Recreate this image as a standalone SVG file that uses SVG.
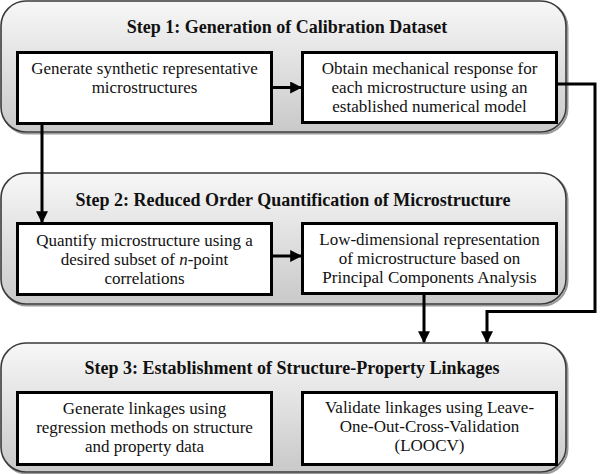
<svg xmlns="http://www.w3.org/2000/svg" width="600" height="474" viewBox="0 0 600 474">
<defs>
<linearGradient id="g" x1="0" y1="0" x2="0" y2="1">
<stop offset="0" stop-color="#f7f7f7"/>
<stop offset="1" stop-color="#c9c9c9"/>
</linearGradient>
<marker id="ah" markerWidth="4" markerHeight="4" refX="3.6" refY="2" orient="auto" markerUnits="strokeWidth">
<path d="M0,0 L4,2 L0,4 Z" fill="#000"/>
</marker>
</defs>
<style>
.outer{fill:url(#g);stroke:#3a3a3a;stroke-width:1.6}
.shadow{fill:none;stroke:#9a9a9a;stroke-width:2}
.inner{fill:#fff;stroke:#000;stroke-width:3}
.title{font-family:"Liberation Serif",serif;font-weight:bold;font-size:18px;text-anchor:middle;fill:#111}
.txt{font-family:"Liberation Serif",serif;font-size:17px;text-anchor:middle;fill:#111}
.conn{fill:none;stroke:#000;stroke-width:3;marker-end:url(#ah)}
</style>
<rect x="0" y="0" width="600" height="474" fill="#fff"/>

<g id="step1">
<rect class="shadow" x="2.5" y="2.5" width="565" height="131" rx="25"/>
<rect class="outer" x="1" y="1" width="565" height="131" rx="25"/>
<text class="title" x="287" y="33">Step 1: Generation of Calibration Dataset</text>
</g>
<g id="gen">
<rect class="inner" x="17.5" y="52.5" width="254" height="71"/>
<text class="txt" x="144.5" y="74">Generate synthetic representative</text>
<text class="txt" x="144.5" y="93">microstructures</text>
</g>
<g id="obtain">
<rect class="inner" x="302.5" y="52.5" width="254" height="70"/>
<text class="txt" x="429.5" y="74">Obtain mechanical response for</text>
<text class="txt" x="429.5" y="93">each microstructure using an</text>
<text class="txt" x="429.5" y="112">established numerical model</text>
</g>

<g id="step2">
<rect class="shadow" x="2.5" y="174.5" width="565" height="131" rx="25"/>
<rect class="outer" x="1" y="173" width="565" height="131" rx="25"/>
<text class="title" x="293" y="206">Step 2: Reduced Order Quantification of Microstructure</text>
</g>
<g id="quantify">
<rect class="inner" x="17.5" y="223.5" width="254" height="71"/>
<text class="txt" x="144.5" y="246">Quantify microstructure using a</text>
<text class="txt" x="144.5" y="265">desired subset of <tspan font-style="italic">n</tspan>-point</text>
<text class="txt" x="144.5" y="284">correlations</text>
</g>
<g id="lowdim">
<rect class="inner" x="302.5" y="223.5" width="254" height="70"/>
<text class="txt" x="429.5" y="245">Low-dimensional representation</text>
<text class="txt" x="429.5" y="264">of microstructure based on</text>
<text class="txt" x="429.5" y="283">Principal Components Analysis</text>
</g>

<g id="step3">
<rect class="shadow" x="2.5" y="344.5" width="565" height="129" rx="25"/>
<rect class="outer" x="1" y="343" width="565" height="129" rx="25"/>
<text class="title" x="292" y="374">Step 3: Establishment of Structure-Property Linkages</text>
</g>
<g id="linkages">
<rect class="inner" x="17.5" y="392.5" width="254" height="72"/>
<text class="txt" x="144.5" y="414">Generate linkages using</text>
<text class="txt" x="144.5" y="433">regression methods on structure</text>
<text class="txt" x="144.5" y="452">and property data</text>
</g>
<g id="validate">
<rect class="inner" x="302.5" y="392.5" width="254" height="72"/>
<text class="txt" x="429.5" y="413">Validate linkages using Leave-</text>
<text class="txt" x="429.5" y="432">One-Out-Cross-Validation</text>
<text class="txt" x="429.5" y="451">(LOOCV)</text>
</g>

<g id="connectors">
<path class="conn" d="M273,87.5 H301"/>
<path class="conn" d="M42,125 V222"/>
<path class="conn" d="M273,256 H301"/>
<path class="conn" d="M558,84 H595 V311.5 H487 V342"/>
<path class="conn" d="M424,295 V342"/>
</g>
</svg>
